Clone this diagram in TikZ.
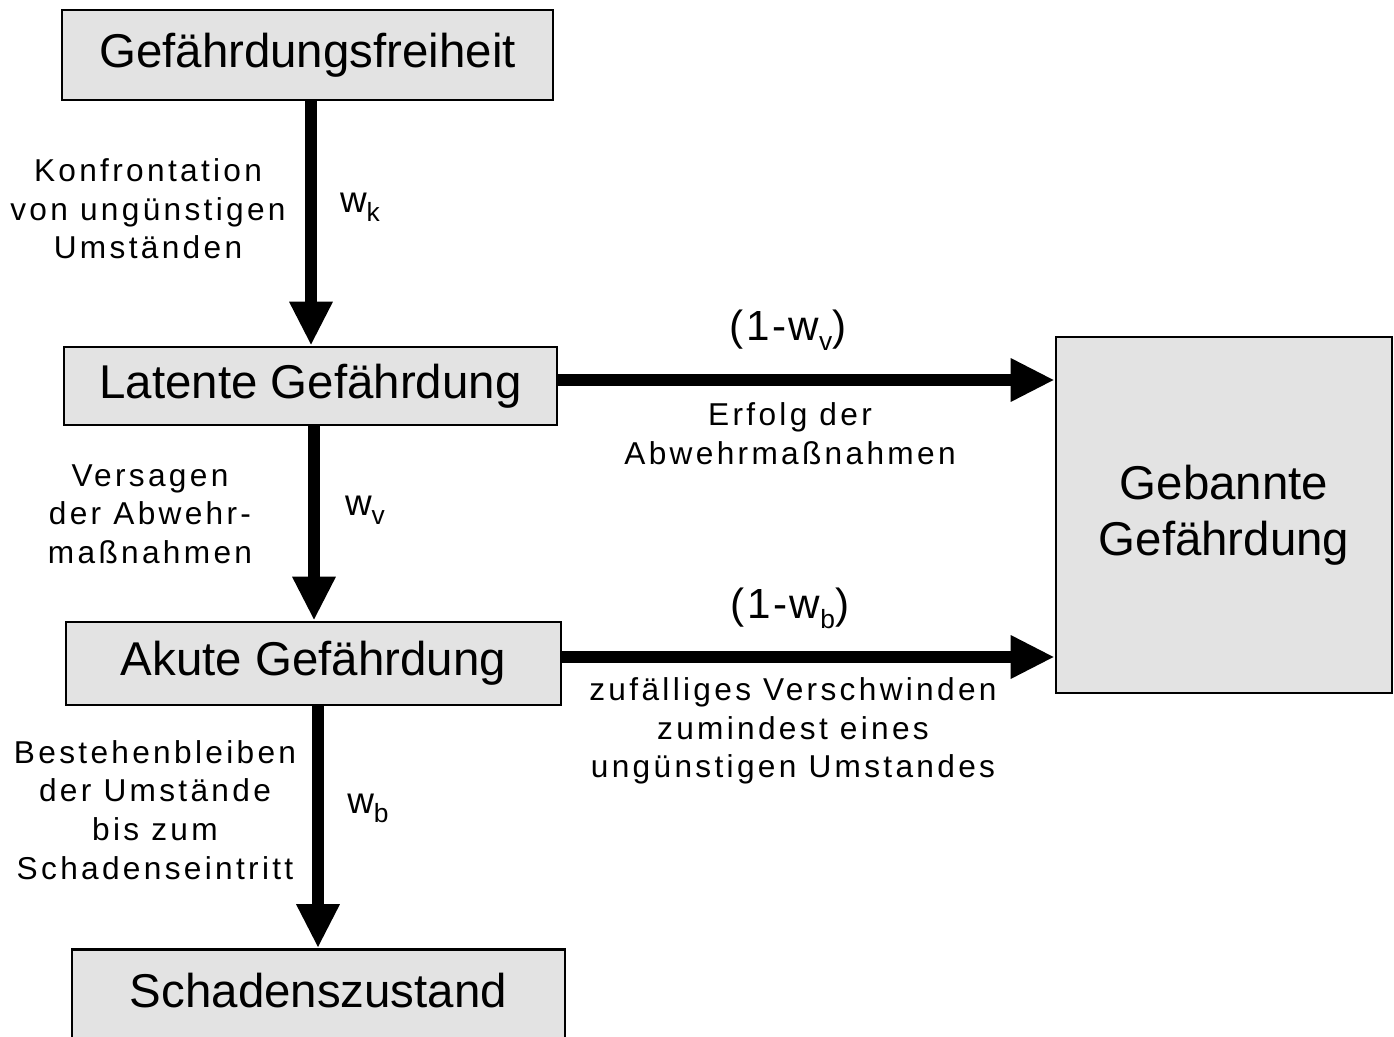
\documentclass[tikz,border=0pt]{standalone}
\usepackage{fontspec}
\setmainfont{Liberation Sans}
\usetikzlibrary{arrows.meta}
\newcommand{\wsub}[1]{w\raisebox{-0.45ex}{\fontsize{15}{15}\selectfont #1}}
\begin{document}
\begin{tikzpicture}[x=0.02cm,y=-0.02cm,
  box/.style={draw, line width=1.6pt, fill=gray!22, inner sep=0pt, align=center,
    font=\fontsize{27}{32}\selectfont},
  lbl/.style={align=center, inner sep=0pt, font=\fontsize{18}{22}\selectfont\addfontfeature{LetterSpace=10.5}},
  prob/.style={inner sep=0pt, font=\fontsize{21}{24}\selectfont},
  probwide/.style={inner sep=0pt, font=\fontsize{24}{28}\selectfont\addfontfeature{LetterSpace=6}},
  flow/.style={line width=7pt, -{Triangle[length=25pt,width=23pt]}}]
\useasboundingbox (0,0) rectangle (1394,1037);
% boxes
\node[box, minimum width=9.82cm, minimum height=1.8cm] (gf) at (307.5,55) {Gefährdungsfreiheit};
\node[box, minimum width=9.86cm, minimum height=1.56cm] (lat) at (310.5,386) {Latente Gefährdung};
\node[box, minimum width=9.9cm, minimum height=1.66cm] (ak) at (313.5,663.5) {Akute Gefährdung};
\node[box, minimum width=9.86cm, minimum height=1.9cm, text depth=0.25cm] (sch) at (318.5,997) {Schadenszustand};
\node[box, minimum width=6.72cm, minimum height=7.12cm] (geb) at (1224,515) {Gebannte\\Gefährdung};
% connector guide coordinates
\coordinate (x1) at (311,0);
\coordinate (x2) at (314,0);
\coordinate (x3) at (318,0);
\coordinate (y1) at (0,380);
\coordinate (y2) at (0,657);
% vertical arrows
\draw[flow] (gf.south -| x1) -- (lat.north -| x1);
\draw[flow] (lat.south -| x2) -- (ak.north -| x2);
\draw[flow] (ak.south -| x3) -- (sch.north -| x3);
% horizontal arrows
\draw[flow] (lat.east |- y1) -- (geb.west |- y1);
\draw[flow] (ak.east |- y2) -- (geb.west |- y2);
% labels
\node[lbl] (l1) at (148,209) {Konfrontation\\von ungünstigen\\Umständen};
\node[prob] (wk) at (360,207) {\wsub{k}};
\node[probwide] (p1) at (788,330) {(1-\wsub{v})};
\node[lbl] (l2) at (790,434) {Erfolg der\\Abwehrmaßnahmen};
\node[lbl] (l3) at (150,514) {Versagen\\der Abwehr-\\maßnahmen};
\node[prob] (wv) at (365,510) {\wsub{v}};
\node[probwide] (p2) at (790,608) {(1-\wsub{b})};
\node[lbl] (l4) at (793,731) {zufälliges Verschwinden\\zumindest eines\\ungünstigen Umstandes};
\node[lbl] (l5) at (155,810) {Bestehenbleiben\\der Umstände\\bis zum\\Schadenseintritt};
\node[prob] (wb) at (368,808) {\wsub{b}};
\end{tikzpicture}
\end{document}
